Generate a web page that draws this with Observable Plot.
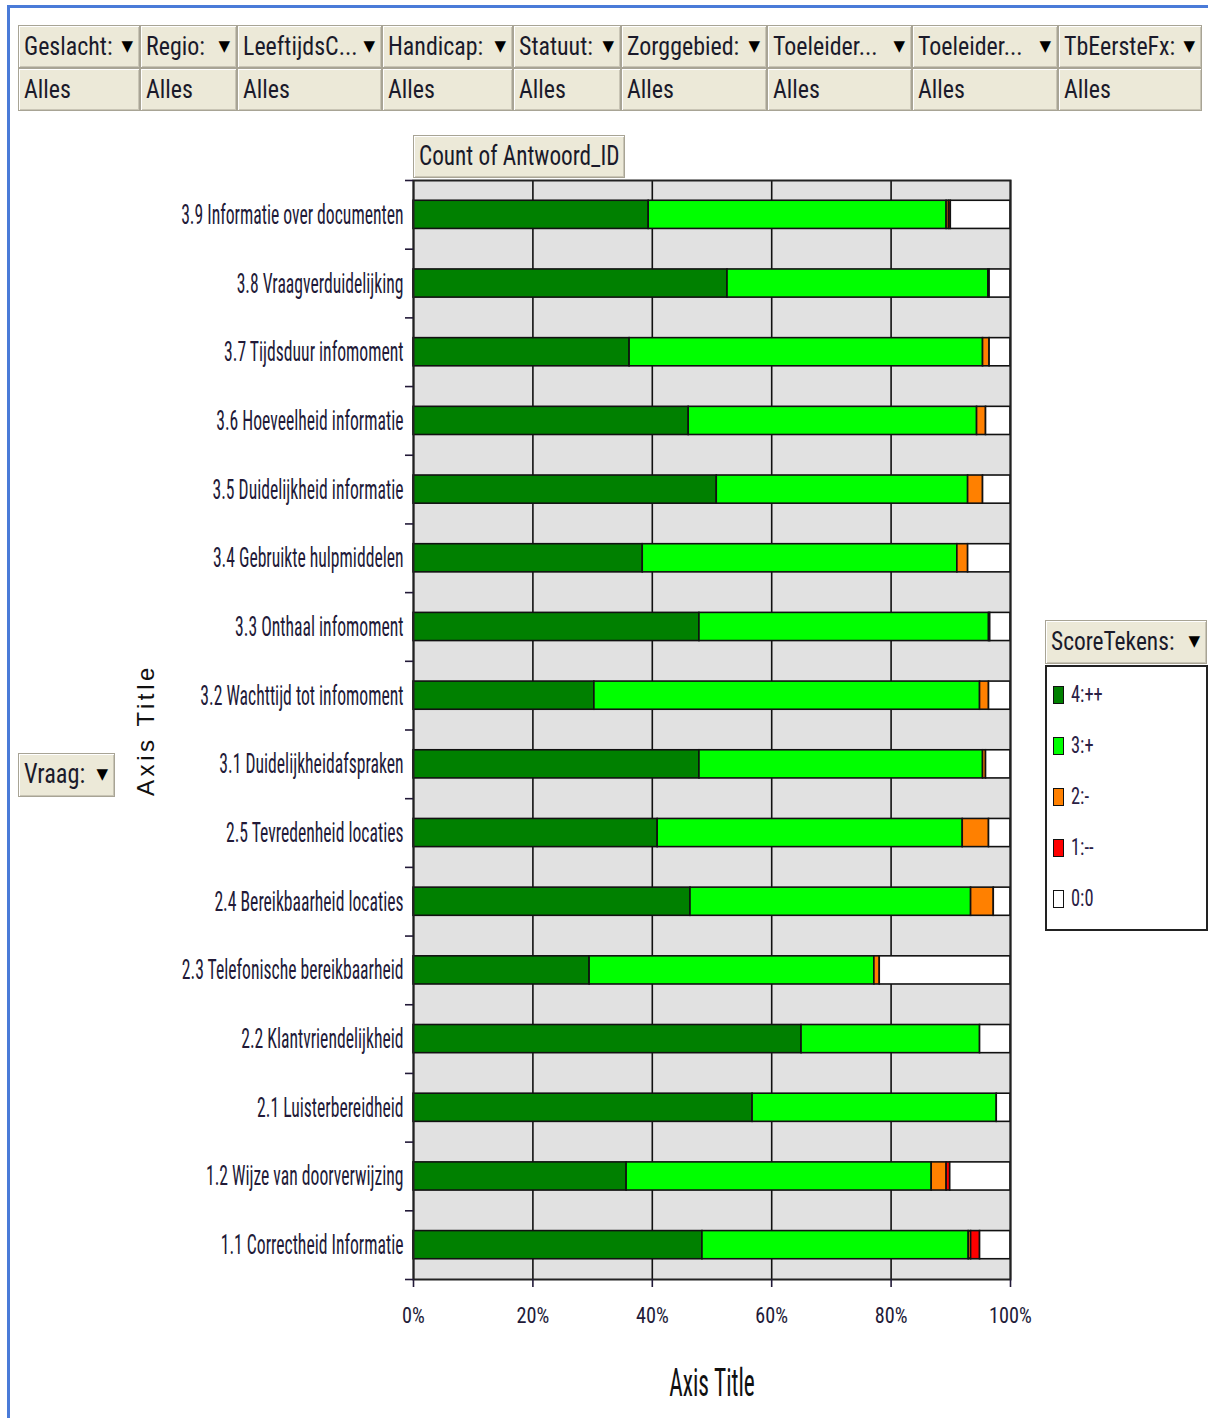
<!DOCTYPE html>
<html><head><meta charset="utf-8">
<script src="https://cdn.jsdelivr.net/npm/d3@7"></script>
<script src="https://cdn.jsdelivr.net/npm/@observablehq/plot@0.6"></script>
<style>
body{margin:0;background:#fff;}
#page{position:relative;width:1208px;height:1418px;overflow:hidden;font-family:Roboto,sans-serif;font-stretch:condensed;color:#1a1a2a;}
#frameline{position:absolute;left:7px;top:5px;width:1210px;height:1420px;border-left:3px solid #4a7bd8;border-top:3px solid #4a7bd8;}
.btn{position:absolute;background:#ece9d8;border:1px solid #a8a495;box-shadow:inset 1px 1px 0 #fff, inset -1px -1px 0 #c9c5b5;box-sizing:border-box;font-size:25px;white-space:nowrap;overflow:hidden;}
.btn .t{position:absolute;left:5px;top:50%;transform-origin:left center;}
.btn .a{position:absolute;right:6px;top:50%;transform:translateY(-58%);font-size:15px;font-family:"DejaVu Sans",sans-serif;font-stretch:normal;color:#000;}
#filters{position:absolute;left:18px;top:25px;}
#plotwrap{position:absolute;left:0;top:130px;}
#legend{position:absolute;left:1045px;top:665px;width:163px;height:266px;border:2px solid #222;box-sizing:border-box;background:#fff;}
.li{position:absolute;left:6px;font-size:23px;display:flex;align-items:center;color:#2a2045;}
.li .lt{display:inline-block;transform:scaleX(0.8);transform-origin:left center;}
.sw{width:9px;height:16px;border:1.5px solid #111;margin-right:7px;}
</style></head><body>
<div id="page">
<div id="frameline"></div>
<div id="filters"></div>
<div id="plotwrap"></div>
</div>
<script>
// ---- data ----
const filterNames = ["Geslacht:", "Regio:", "LeeftijdsC...", "Handicap:", "Statuut:", "Zorggebied:", "Toeleider...", "Toeleider...", "TbEersteFx:"];
const filterValues = ["Alles", "Alles", "Alles", "Alles", "Alles", "Alles", "Alles", "Alles", "Alles"];
const filterWidths = [122, 97, 145, 131, 108, 146, 145, 146, 144];

const vragen = [
  "3.9 Informatie over documenten",
  "3.8 Vraagverduidelijking",
  "3.7 Tijdsduur infomoment",
  "3.6 Hoeveelheid informatie",
  "3.5 Duidelijkheid informatie",
  "3.4 Gebruikte hulpmiddelen",
  "3.3 Onthaal infomoment",
  "3.2 Wachttijd tot infomoment",
  "3.1 Duidelijkheidafspraken",
  "2.5 Tevredenheid locaties",
  "2.4 Bereikbaarheid locaties",
  "2.3 Telefonische bereikbaarheid",
  "2.2 Klantvriendelijkheid",
  "2.1 Luisterbereidheid",
  "1.2 Wijze van doorverwijzing",
  "1.1 Correctheid Informatie"
];
const series = ["4:++", "3:+", "2:-", "1:--", "0:0"];
const seriesColors = ["#008000", "#00ff00", "#ff8000", "#ff0000", "#ffffff"];
// percentages per vraag (same order as vragen)
const score4 = [39.4, 52.6, 36.2, 46.1, 50.8, 38.4, 47.9, 30.3, 47.9, 40.9, 46.4, 29.5, 65.0, 56.8, 35.7, 48.4];
const score3 = [49.9, 43.7, 59.2, 48.3, 42.1, 52.7, 48.5, 64.6, 47.5, 51.1, 47.0, 47.7, 29.9, 40.9, 51.1, 44.6];
const score2 = [0.4, 0, 1.1, 1.5, 2.5, 1.8, 0, 1.5, 0.5, 4.4, 3.8, 0.9, 0, 0, 2.5, 0.4];
const score1 = [0.3, 0.2, 0, 0, 0, 0, 0.2, 0, 0, 0, 0, 0, 0, 0, 0.6, 1.5];
const score0 = [10.0, 3.5, 3.5, 4.1, 4.6, 7.1, 3.4, 3.6, 4.1, 3.6, 2.8, 21.9, 5.1, 2.3, 10.1, 5.1];
const xTicks = [0, 0.2, 0.4, 0.6, 0.8, 1];
const legendTitle = "ScoreTekens:";
const valueButton = "Count of Antwoord_ID";
const rowButton = "Vraag:";
const axisTitle = "Axis Title";

// ---- helpers ----
const page = document.getElementById("page");
function button(text, left, top, w, h, withArrow = true, size = 25, sx = 0.95) {
  const d = document.createElement("div");
  d.className = "btn";
  Object.assign(d.style, {left: left + "px", top: top + "px", width: w + "px", height: h + "px", fontSize: size + "px"});
  d.innerHTML = `<span class="t" style="transform:translateY(-52%) scaleX(${sx})">${text}</span>` + (withArrow ? `<span class="a">▼</span>` : "");
  return d;
}

// filter table
const filt = document.getElementById("filters");
let fx = 0;
filterNames.forEach((n, i) => {
  filt.appendChild(button(n, fx, 0, filterWidths[i], 43, true, 26, 0.92));
  filt.appendChild(button(filterValues[i], fx, 43, filterWidths[i], 43, false, 26, 0.92));
  fx += filterWidths[i];
});

// buttons
page.appendChild(button(valueButton, 413, 135, 212, 43, false, 27, 0.86));
page.appendChild(button(rowButton, 18, 753, 97, 44, true, 27, 0.9));
page.appendChild(button(legendTitle, 1045, 620, 162, 44, true, 26, 0.9));

// legend
const leg = document.createElement("div");
leg.id = "legend";
series.forEach((s, i) => {
  const li = document.createElement("div");
  li.className = "li";
  li.style.top = (14 + i * 51) + "px";
  li.innerHTML = `<span class="sw" style="background:${seriesColors[i]}"></span><span class="lt">${s}</span>`;
  leg.appendChild(li);
});
page.appendChild(leg);

// ---- chart ----
const cols = [score4, score3, score2, score1, score0];
const data = vragen.flatMap((v, i) => series.map((s, j) => ({vraag: v, serie: s, value: cols[j][i]}))).filter(d => d.value > 0);

const W = 1040, H = 1288, mT = 50, mB = 139, mL = 413, mR = 30;
const halfStep = (H - mT - mB) / vragen.length / 2;

const chart = Plot.plot({
  width: W, height: H,
  marginTop: mT, marginBottom: mB, marginLeft: mL, marginRight: mR,
  style: {fontFamily: "Roboto, sans-serif", fontStretch: "condensed", fontSize: "19px", color: "#221a38", background: "transparent"},
  x: {domain: [0, 1]},
  y: {domain: vragen, paddingInner: 0.59, paddingOuter: 0.295, round: false},
  color: {domain: series, range: seriesColors},
  marks: [
    Plot.frame({fill: "#e1e1e1", stroke: null}),
    Plot.gridX(xTicks, {stroke: "#111", strokeOpacity: 1, strokeWidth: 1.6}),
    Plot.barX(data, Plot.stackX({y: "vraag", x: "value", fill: "serie", offset: "normalize", order: series, stroke: "#111", strokeWidth: 1.6})),
    Plot.frame({stroke: "#222", strokeWidth: 2}),
    Plot.axisX(xTicks, {tickSize: 8, tickPadding: 20, fontSize: 22, tickFormat: d3.format(".0%"), label: null, strokeWidth: 1.6}),
    Plot.axisY({tickSize: 0, tickPadding: 10, fontSize: 28, label: null}),
    Plot.axisY({tickSize: 8, text: null, dy: halfStep, label: null, strokeWidth: 1.6}),
    Plot.axisY([vragen[0]], {tickSize: 8, text: null, dy: -halfStep, label: null, strokeWidth: 1.6}),
    Plot.text([axisTitle], {frameAnchor: "bottom", dy: 116, fontSize: 39, fill: "#111"}),
    Plot.text([axisTitle], {frameAnchor: "left", textAnchor: "middle", dx: -267, rotate: -90, fontSize: 24, fontFamily: "Liberation Sans, Arial, sans-serif", fill: "#111"})
  ]
});

// narrow the condensed texts horizontally (mimic the narrow typeface of the original)
const svg = d3.select(chart);
function squeeze(sel, sx) {
  sel.attr("transform", function () { return (this.getAttribute("transform") || "") + ` scale(${sx},1)`; });
}
squeeze(svg.selectAll('g[aria-label="y-axis tick label"] text'), 0.63);
squeeze(svg.selectAll('g[aria-label="x-axis tick label"] text'), 0.92);
const titles = svg.selectAll("text").filter(function () { return this.textContent === axisTitle; });
titles.filter(function () { return !(this.getAttribute("transform") || "").includes("rotate"); }).call(s => squeeze(s, 0.6));
titles.filter(function () { return (this.getAttribute("transform") || "").includes("rotate"); })
  .attr("letter-spacing", "3.6px").style("font-stretch", "normal");
document.getElementById("plotwrap").appendChild(chart);
</script>
</body></html>
